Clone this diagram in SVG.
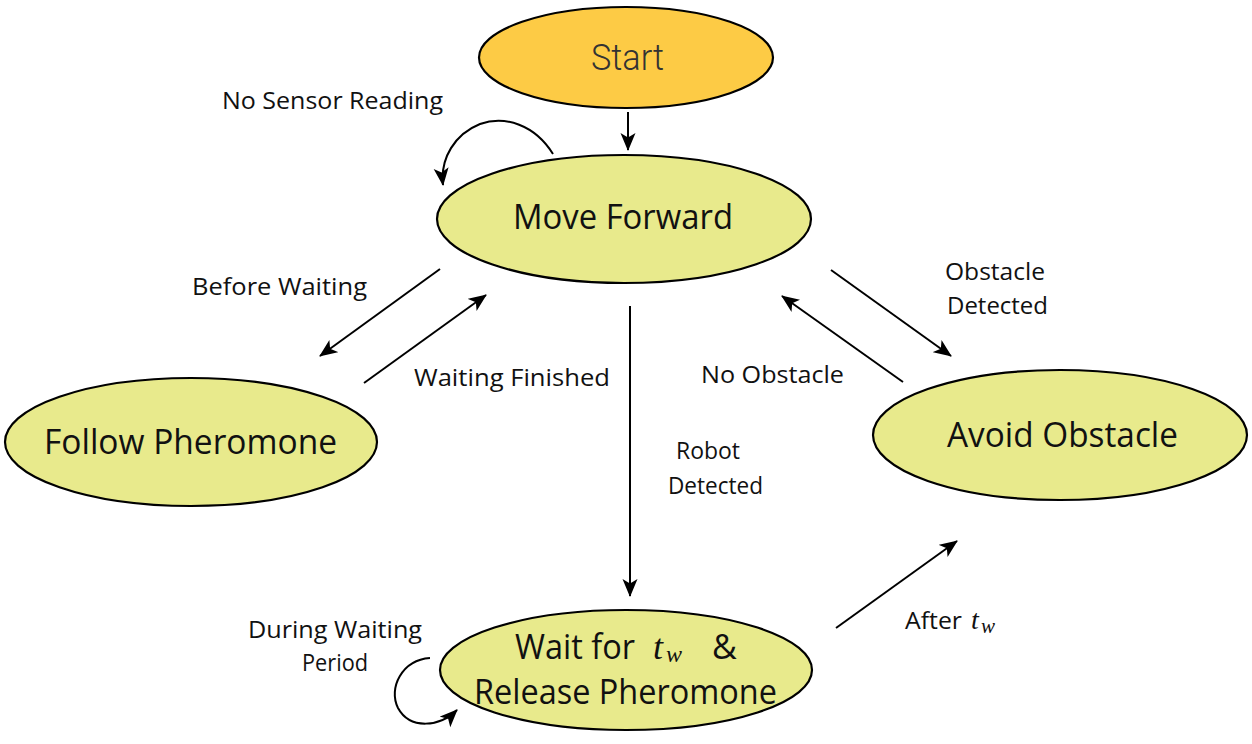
<svg xmlns="http://www.w3.org/2000/svg" width="1252" height="744" viewBox="0 0 1252 744">
<style>
.node{fill:#E8EA8C;stroke:#000;stroke-width:2.2}
.start{fill:#FDCB45;stroke:#000;stroke-width:2.2}
.nt{font-family:"Open Sans","Liberation Sans",sans-serif;font-size:34px;fill:#111;text-anchor:start}
.lbl{font-family:"Open Sans","Liberation Sans",sans-serif;font-size:23px;fill:#111}
.math{font-family:"Liberation Serif","DejaVu Serif",serif;font-style:italic;fill:#111}
.edge{fill:none;stroke:#000;stroke-width:2;marker-end:url(#ah)}
</style>
<defs>
<marker id="ah" markerUnits="userSpaceOnUse" markerWidth="20" markerHeight="16" refX="17" refY="7.5" orient="auto">
<path d="M0,0 L18,7.5 L0,15 L4.5,7.5 z" fill="#000"/>
</marker>
</defs>
<rect width="1252" height="744" fill="#fff"/>
<g id="connectors">
<path class="edge" d="M628,112 L628,150"/>
<path class="edge" d="M553,154 C535,125 505,115 480,124 C455,134 440,158 443,185"/>
<path class="edge" d="M440,269 L320,356"/>
<path class="edge" d="M364,383 L486,295"/>
<path class="edge" d="M630,306 L630,596"/>
<path class="edge" d="M831,270 L951,356"/>
<path class="edge" d="M903,382 L782,296"/>
<path class="edge" d="M836,628 L957,541"/>
<path class="edge" d="M430,658 C402,660 388,688 398,708 C410,730 440,727 457,710"/>
</g>
<g id="edge-labels">
<text class="lbl" x="222" y="109" textLength="221" lengthAdjust="spacingAndGlyphs">No Sensor Reading</text>
<text class="lbl" x="192" y="295" textLength="175" lengthAdjust="spacingAndGlyphs">Before Waiting</text>
<text class="lbl" x="414" y="386" textLength="196" lengthAdjust="spacingAndGlyphs">Waiting Finished</text>
<text class="lbl" x="676" y="459" textLength="64" lengthAdjust="spacingAndGlyphs">Robot</text>
<text class="lbl" x="668" y="494" textLength="95" lengthAdjust="spacingAndGlyphs">Detected</text>
<text class="lbl" x="945" y="280" textLength="100" lengthAdjust="spacingAndGlyphs">Obstacle</text>
<text class="lbl" x="947" y="314" textLength="101" lengthAdjust="spacingAndGlyphs">Detected</text>
<text class="lbl" x="701" y="383" textLength="143" lengthAdjust="spacingAndGlyphs">No Obstacle</text>
<text class="lbl" x="248" y="638" textLength="174" lengthAdjust="spacingAndGlyphs">During Waiting</text>
<text class="lbl" x="302" y="671" textLength="66" lengthAdjust="spacingAndGlyphs">Period</text>
<text class="lbl" x="905" y="629" textLength="57" lengthAdjust="spacingAndGlyphs">After</text>
<text class="math" x="971" y="629" font-size="28">t</text>
<text class="math" x="981" y="633" font-size="21">w</text>
</g>
<g id="node-start">
<ellipse class="start" cx="626" cy="57.5" rx="147" ry="50.5"/>
<text x="591" y="70" font-family="Roboto,'Liberation Sans',sans-serif" font-weight="300" font-size="37" fill="#333" textLength="73" lengthAdjust="spacingAndGlyphs">Start</text>
</g>
<g id="node-move-forward">
<ellipse class="node" cx="624" cy="219" rx="187" ry="64"/>
<text class="nt" x="513" y="229" textLength="220" lengthAdjust="spacingAndGlyphs">Move Forward</text>
</g>
<g id="node-follow-pheromone">
<ellipse class="node" cx="191" cy="442" rx="186" ry="64"/>
<text class="nt" x="44" y="454" textLength="293" lengthAdjust="spacingAndGlyphs">Follow Pheromone</text>
</g>
<g id="node-avoid-obstacle">
<ellipse class="node" cx="1060" cy="435" rx="187" ry="65"/>
<text class="nt" x="947" y="447" textLength="231" lengthAdjust="spacingAndGlyphs">Avoid Obstacle</text>
</g>
<g id="node-wait">
<ellipse class="node" cx="626" cy="670" rx="186" ry="60"/>
<text class="nt" x="515" y="659" textLength="120" lengthAdjust="spacingAndGlyphs">Wait for</text>
<text class="math" x="653" y="659" font-size="36">t</text>
<text class="math" x="666" y="662" font-size="24">w</text>
<text class="nt" x="712" y="659">&amp;</text>
<text class="nt" x="474" y="704" textLength="303" lengthAdjust="spacingAndGlyphs">Release Pheromone</text>
</g>
</svg>
